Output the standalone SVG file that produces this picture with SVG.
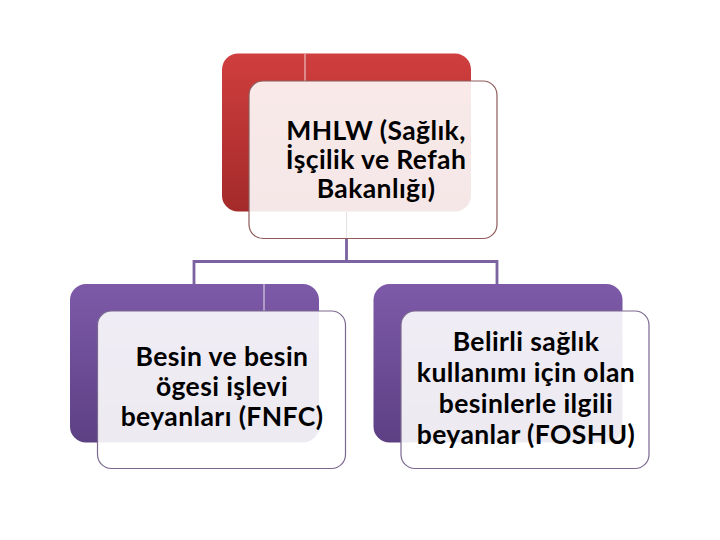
<svg xmlns="http://www.w3.org/2000/svg" width="720" height="540" viewBox="0 0 720 540">
  <defs>
    <linearGradient id="gRed" x1="0" y1="0" x2="0" y2="1">
      <stop offset="0" stop-color="#d03e3e"/>
      <stop offset="1" stop-color="#a42a2a"/>
    </linearGradient>
    <linearGradient id="gPurple" x1="0" y1="0" x2="0" y2="1">
      <stop offset="0" stop-color="#7d5aa8"/>
      <stop offset="1" stop-color="#5d4084"/>
    </linearGradient>
  </defs>
  <style>
    .front { fill: #ffffff; fill-opacity: 0.89; stroke-width: 1.2; }
    .fr { stroke: #8e5a5a; }
    .fp { stroke: #7a6890; }
    .lbl { font-family: "Lato", "Liberation Sans", sans-serif; font-weight: 700; font-size: 26.5px; letter-spacing: 0.4px; fill: #000000; text-anchor: middle; }
    .conn { stroke: #7b62a0; stroke-width: 2.8; fill: none; }
    .ghost { stroke-width: 1; fill: none; }
  </style>
  <rect width="720" height="540" fill="#ffffff"/>

  <g id="connectors">
    <path class="conn" d="M346.5 238 V261.5 M194 284 V261.5 H497 V284"/>
  </g>

  <g id="node-mhlw">
    <rect x="222" y="53.5" width="249" height="158" rx="16" fill="url(#gRed)"/>
    <line class="ghost" x1="305" y1="54" x2="305" y2="81" stroke="#f2d8d8"/>
    <rect class="front fr" x="249" y="81" width="248" height="157.5" rx="14"/>
    <line class="ghost" x1="346.5" y1="212" x2="346.5" y2="238" stroke="#e6dfe8"/>
    <text class="lbl" x="376" y="140">MHLW (Sağlık,</text>
    <text class="lbl" x="376" y="169">İşçilik ve Refah</text>
    <text class="lbl" x="376" y="198">Bakanlığı)</text>
  </g>

  <g id="node-fnfc">
    <rect x="70" y="284" width="249" height="158.5" rx="16" fill="url(#gPurple)"/>
    <line class="ghost" x1="264" y1="284" x2="264" y2="311" stroke="#e8e0f0"/>
    <rect class="front fp" x="97.5" y="311" width="248" height="157.5" rx="14"/>
    <text class="lbl" x="222" y="366">Besin ve besin</text>
    <text class="lbl" x="222" y="396">ögesi işlevi</text>
    <text class="lbl" x="222" y="426">beyanları (FNFC)</text>
  </g>

  <g id="node-foshu">
    <rect x="373.5" y="284" width="249" height="158.5" rx="16" fill="url(#gPurple)"/>
    <rect class="front fp" x="401" y="311" width="248" height="157.5" rx="14"/>
    <text class="lbl" x="526" y="351">Belirli sağlık</text>
    <text class="lbl" x="526" y="382">kullanımı için olan</text>
    <text class="lbl" x="526" y="413">besinlerle ilgili</text>
    <text class="lbl" x="526" y="444">beyanlar (FOSHU)</text>
  </g>
</svg>
